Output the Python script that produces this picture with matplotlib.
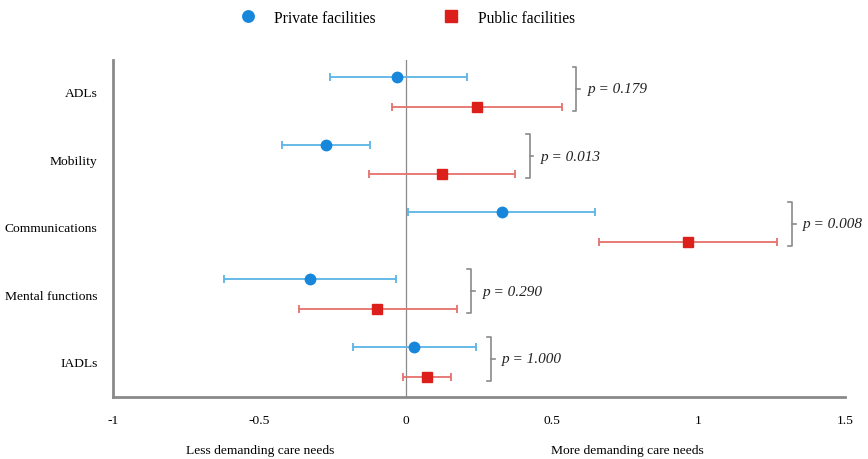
import numpy as np
import matplotlib.pyplot as plt

# ======== DATA ========
categories = ["ADLs", "Mobility", "Communications", "Mental functions", "IADLs"]

private_est = [-0.03, -0.273, 0.329, -0.327, 0.030]
private_lo = [-0.26, -0.423, 0.008, -0.620, -0.179]
private_hi = [0.208, -0.122, 0.645, -0.033, 0.241]

public_est = [0.243, 0.123, 0.964, -0.097, 0.072]
public_lo = [-0.048, -0.125, 0.661, -0.366, -0.009]
public_hi = [0.533, 0.373, 1.268, 0.174, 0.154]

p_values = ["0.179", "0.013", "0.008", "0.290", "1.000"]

xticks = [-1, -0.5, 0, 0.5, 1, 1.5]
xtick_labels = ["-1", "-0.5", "0", "0.5", "1", "1.5"]

# ======== STYLE ========
plt.rcParams['font.family'] = ['Liberation Serif', 'DejaVu Serif']

blue_mk = "#1787dc"
blue_ln = "#5ab4e6"
red_mk = "#dc1f1a"
red_ln = "#e5716b"
grey = "#8a8a8a"

fig = plt.figure(figsize=(8.68, 4.6), dpi=100)
ax = fig.add_axes([0.130, 0.135, 0.8435, 0.732])

y = np.arange(len(categories))
off = 0.22

private_est = np.array(private_est)
public_est = np.array(public_est)

ax.axvline(0, color=grey, lw=0.9, zorder=1)

ax.errorbar(private_est, y - off,
            xerr=[private_est - np.array(private_lo), np.array(private_hi) - private_est],
            fmt="none", ecolor=blue_ln, elinewidth=1.3, capsize=3, capthick=1.3, zorder=2)
ax.plot(private_est, y - off, "o", color=blue_mk, ms=7.5, zorder=3,
        label="Private facilities")

ax.errorbar(public_est, y + off,
            xerr=[public_est - np.array(public_lo), np.array(public_hi) - public_est],
            fmt="none", ecolor=red_ln, elinewidth=1.3, capsize=3, capthick=1.3, zorder=2)
ax.plot(public_est, y + off, "s", color=red_mk, ms=7.5, zorder=3,
        label="Public facilities")

# brackets + p values
for i, p in enumerate(p_values):
    bx = max(private_hi[i], public_hi[i]) + 0.05
    top = i - 0.37
    bot = i + 0.28
    mid = (top + bot) / 2
    cap = 0.013
    ax.plot([bx - cap, bx, bx, bx - cap], [top, top, bot, bot],
            color=grey, lw=1.2, zorder=2)
    ax.plot([bx, bx + cap], [mid, mid], color=grey, lw=1.2, zorder=2)
    ax.text(bx + 0.038, mid, f"p = {p}", style="italic", fontsize=11,
            va="center", ha="left", color="#222222")

ax.set_xlim(-1, 1.5)
ax.set_ylim(4.52, -0.47)
ax.set_yticks(y)
ax.set_yticklabels(categories, fontsize=9.7)
ax.set_xticks(xticks)
ax.set_xticklabels(xtick_labels, fontsize=9.7)
ax.tick_params(axis="both", length=0)
ax.tick_params(axis="x", pad=12)
ax.tick_params(axis="y", pad=11)

for s in ["top", "right"]:
    ax.spines[s].set_visible(False)
for s in ["left", "bottom"]:
    ax.spines[s].set_color(grey)
    ax.spines[s].set_linewidth(2)

fig.text(260 / 868, 1 - 451 / 460, "Less demanding care needs", ha="center",
         va="center", fontsize=9.7)
fig.text(627 / 868, 1 - 451 / 460, "More demanding care needs", ha="center",
         va="center", fontsize=9.7)

fig.legend(loc="upper center", bbox_to_anchor=(0.465, 1.007), ncol=2, frameon=False,
           fontsize=11.2, handletextpad=0.7, columnspacing=3.85, markerscale=1.1)

plt.savefig("out.png", dpi=100)
